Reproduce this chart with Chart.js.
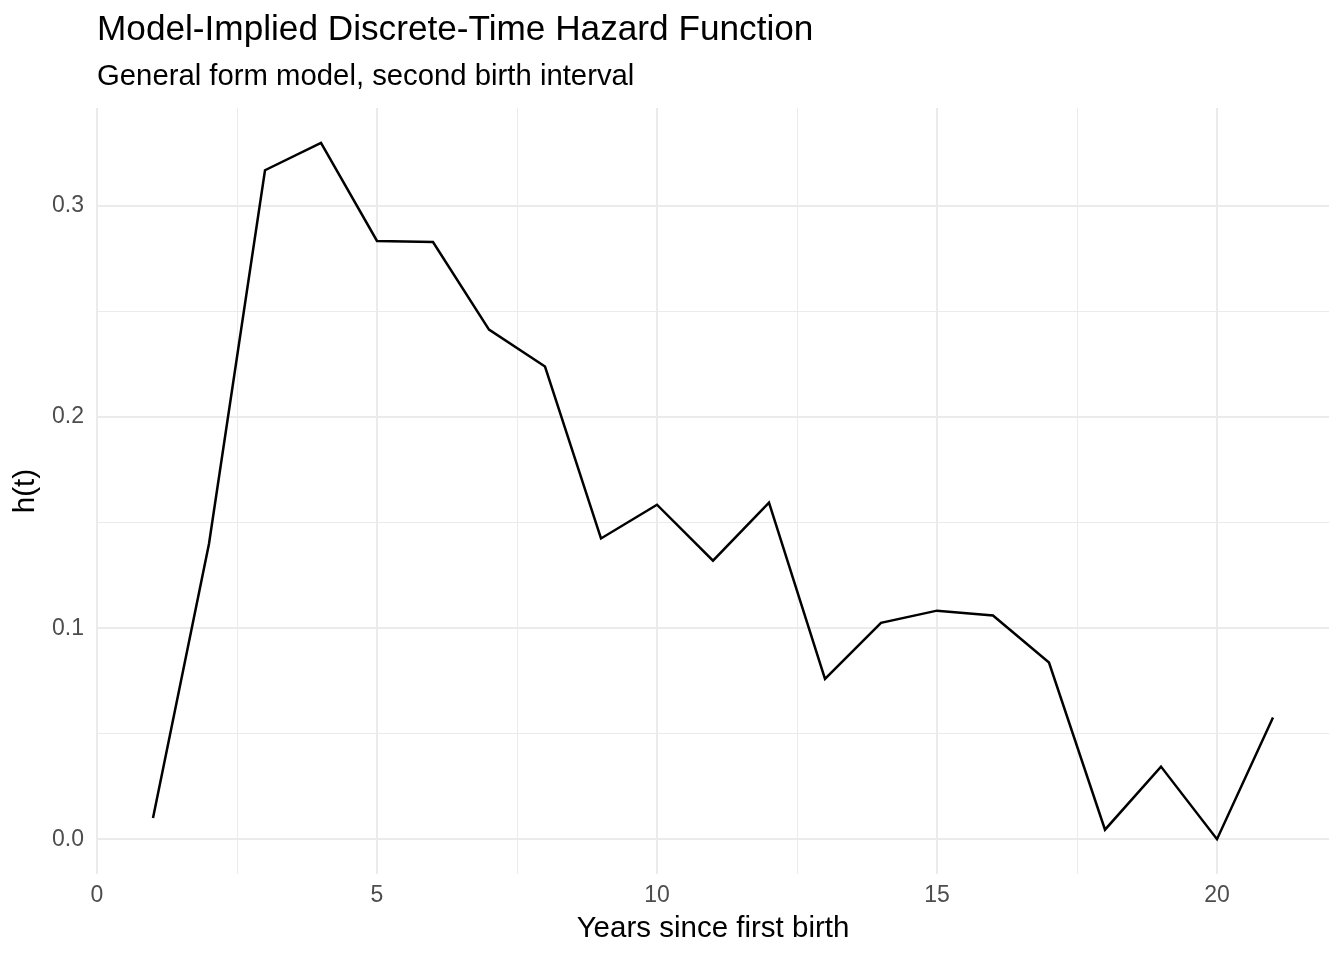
<!DOCTYPE html>
<html>
<head>
<meta charset="utf-8">
<script src="https://cdn.jsdelivr.net/npm/chart.js@4.4.0/dist/chart.umd.min.js"></script>
<style>
  html, body { margin: 0; padding: 0; background: #fff; }
  #hazardChart { display: block; }
</style>
</head>
<body>
<canvas id="hazardChart" width="1344" height="960"></canvas>
<script>
// --- DATA ---
const years = [1, 2, 3, 4, 5, 6, 7, 8, 9, 10, 11, 12, 13, 14, 15, 16, 17, 18, 19, 20, 21];
const hazard = [0.010, 0.140, 0.317, 0.330, 0.2835, 0.283, 0.2415, 0.224, 0.1425, 0.1585,
                0.132, 0.1595, 0.076, 0.1025, 0.1083, 0.106, 0.0837, 0.0045, 0.0344, 0.0, 0.0577];
const xTicks = [0, 2.5, 5, 7.5, 10, 12.5, 15, 17.5, 20];
const yTicks = [0, 0.05, 0.1, 0.15, 0.2, 0.25, 0.3];

const titleText = 'Model-Implied Discrete-Time Hazard Function';
const subtitleText = 'General form model, second birth interval';
const xTitle = 'Years since first birth';
const yTitle = 'h(t)';

const FONT = '"Liberation Sans", Arial, Helvetica, sans-serif';

// ggplot-style 5% expansion of the data range
const xSpan = Math.max(...years) - Math.min(...years);
const ySpan = Math.max(...hazard) - Math.min(...hazard);
const xMin = Math.min(...years) - xSpan * 0.05;
const xMax = Math.max(...years) + xSpan * 0.05;
const yMin = Math.min(...hazard) - ySpan * 0.05;
const yMax = Math.max(...hazard) + ySpan * 0.05;

const isMajorX = v => Math.abs(v / 5 - Math.round(v / 5)) < 1e-9;
const isMajorY = v => Math.abs(v * 10 - Math.round(v * 10)) < 1e-9;

// Title + subtitle, left aligned to the panel like ggplot
const titlePlugin = {
    id: 'ggTitle',
    afterDraw(chart) {
        const ctx = chart.ctx;
        const left = chart.chartArea.left;
        ctx.save();
        ctx.fillStyle = '#000';
        ctx.textAlign = 'left';
        ctx.textBaseline = 'alphabetic';
        ctx.font = '35.2px ' + FONT;
        ctx.fillText(titleText, left, 40);
        ctx.font = '29.3px ' + FONT;
        ctx.fillText(subtitleText, left, 85);
        ctx.restore();
    }
};

new Chart(document.getElementById('hazardChart').getContext('2d'), {
    type: 'line',
    data: {
        datasets: [{
            data: years.map((x, i) => ({ x: x, y: hazard[i] })),
            borderColor: '#000',
            borderWidth: 2.5,
            pointRadius: 0,
            tension: 0,
            fill: false
        }]
    },
    options: {
        responsive: false,
        animation: false,
        devicePixelRatio: 1,
        layout: { padding: { top: 108, right: 15, bottom: 0, left: 0 } },
        plugins: { legend: { display: false }, tooltip: { enabled: false } },
        scales: {
            x: {
                type: 'linear',
                min: xMin,
                max: xMax,
                afterBuildTicks: scale => { scale.ticks = xTicks.map(v => ({ value: v })); },
                afterFit: scale => { scale.height = 86; },
                border: { display: false },
                grid: {
                    drawTicks: false,
                    color: '#EBEBEB',
                    lineWidth: c => (c.tick && isMajorX(c.tick.value) ? 2 : 1)
                },
                ticks: {
                    padding: 8,
                    color: '#4D4D4D',
                    font: { family: FONT, size: 23 },
                    maxRotation: 0,
                    autoSkip: false,
                    callback: v => (isMajorX(v) ? String(v) : '')
                },
                title: {
                    display: true,
                    text: xTitle,
                    color: '#000',
                    font: { family: FONT, size: 29.5 },
                    padding: { top: 0, bottom: 13.5 }
                }
            },
            y: {
                type: 'linear',
                min: yMin,
                max: yMax,
                afterBuildTicks: scale => { scale.ticks = yTicks.map(v => ({ value: v })); },
                afterFit: scale => { scale.width = 97; },
                border: { display: false },
                grid: {
                    drawTicks: false,
                    color: '#EBEBEB',
                    lineWidth: c => (c.tick && isMajorY(c.tick.value) ? 2 : 1)
                },
                ticks: {
                    padding: 13,
                    color: '#4D4D4D',
                    font: { family: FONT, size: 23 },
                    autoSkip: false,
                    callback: v => (isMajorY(v) ? v.toFixed(1) : '')
                },
                title: {
                    display: true,
                    text: yTitle,
                    color: '#000',
                    font: { family: FONT, size: 29.5 },
                    padding: { top: 8.3, bottom: 0 }
                }
            }
        }
    },
    plugins: [titlePlugin]
});
</script>
</body>
</html>
